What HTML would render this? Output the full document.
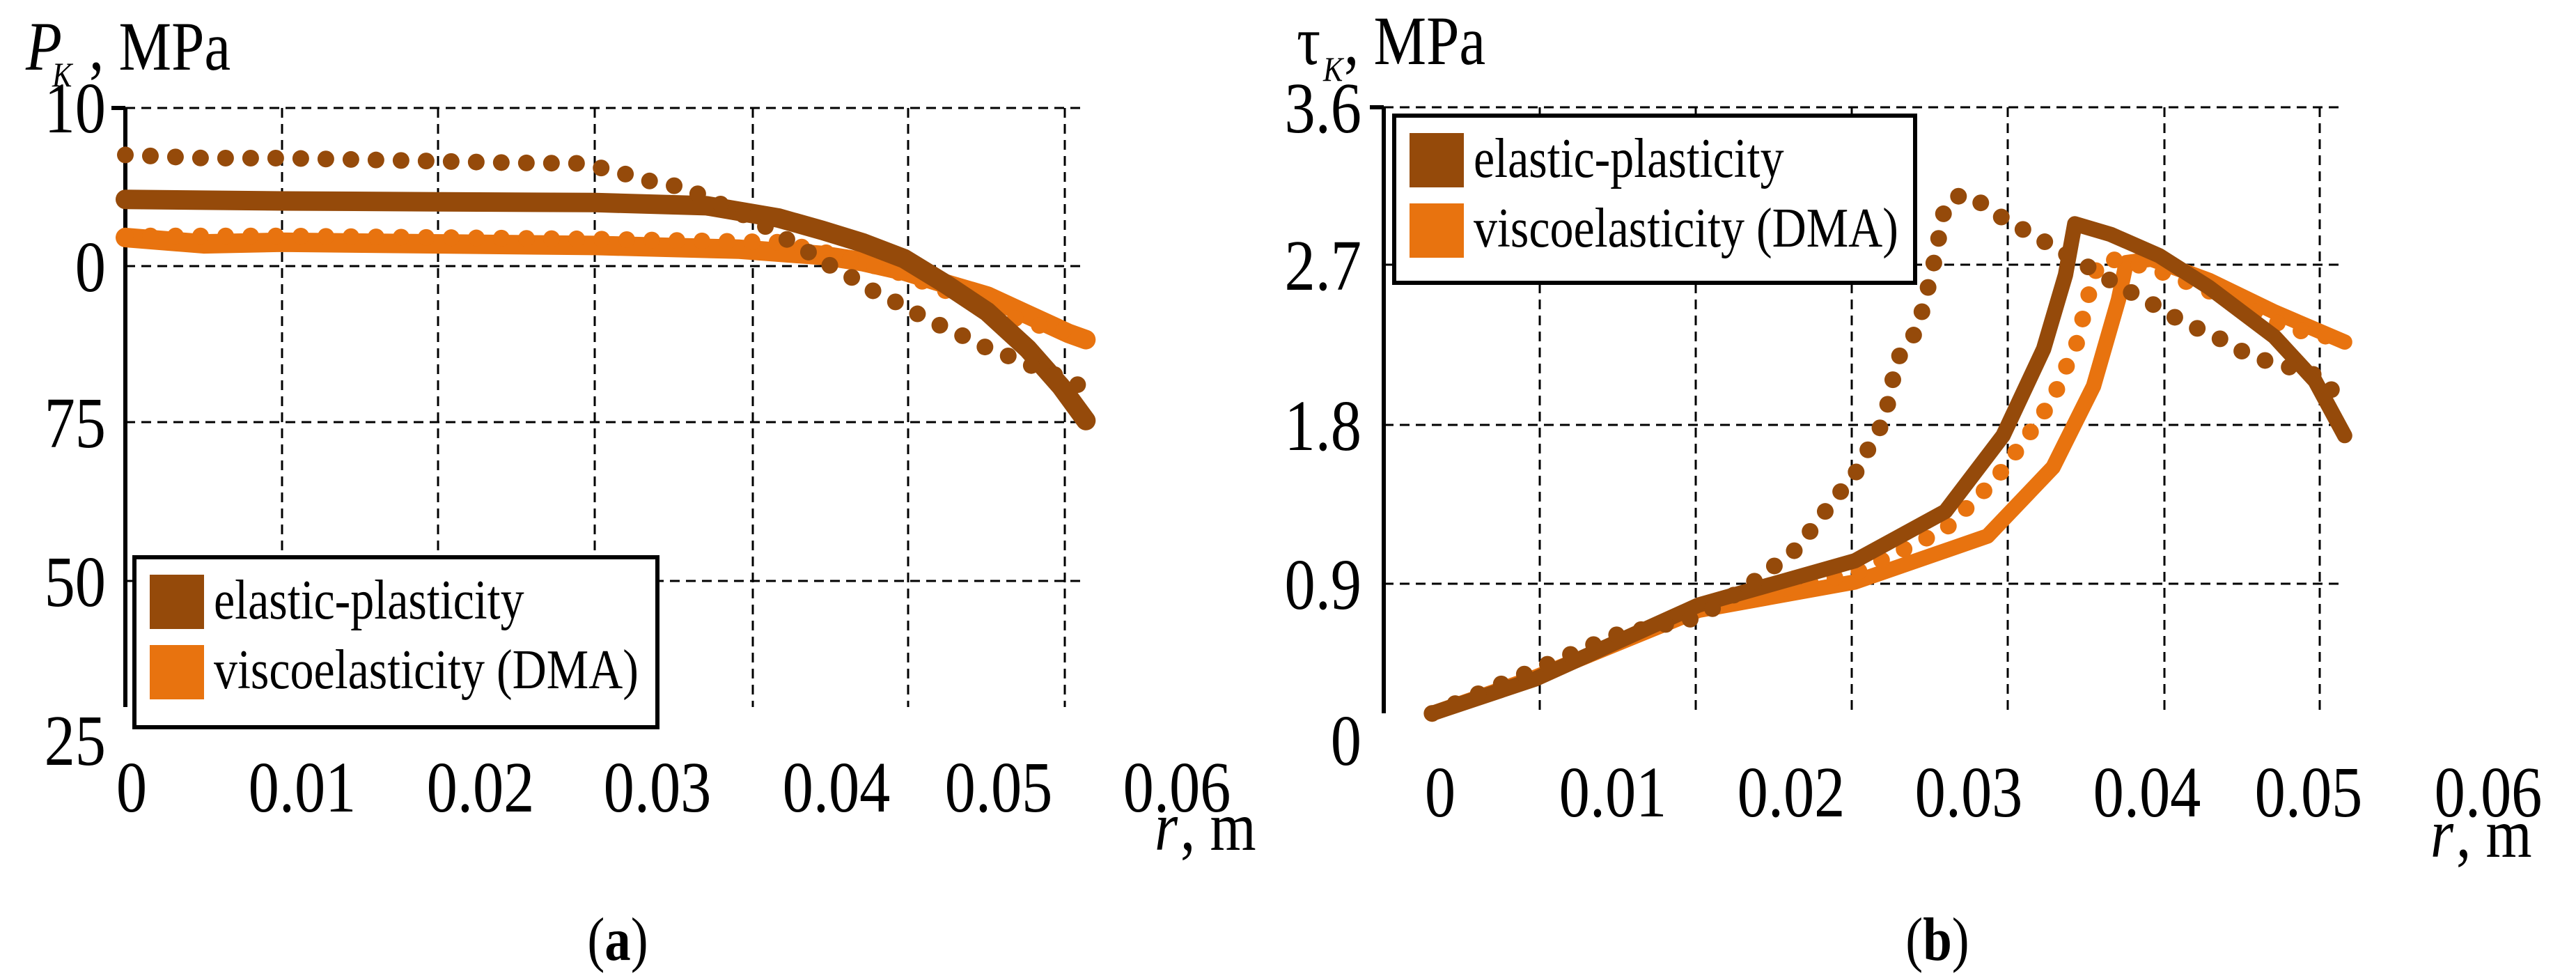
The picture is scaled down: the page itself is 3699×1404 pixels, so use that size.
<!DOCTYPE html>
<html><head><meta charset="utf-8"><style>
html,body{margin:0;padding:0;background:#fff;}
svg{display:block;}
text{font-family:"Liberation Serif",serif;fill:#000;}
</style></head><body>
<svg id="fig" width="3699" height="1404" viewBox="0 0 3699 1404">
<g id="chartA"></g>
<g id="chartB"></g>
</svg>
<script>
// ---- Chart (a) data: r in units of 0.01 m, P in MPa-axis units ----
const aBrownDotR = [0,0.5,1.0,1.5,2.0,2.5,2.88,3.09,3.37,3.55,3.72,4.03,4.18,4.35,4.51,4.65,4.78,4.96,5.10,5.24,5.38,5.55,5.69,5.81,5.97,6.10];
const aBrownDotV = [7.0,6.8,6.8,6.7,6.6,6.5,6.47,6.08,5.29,4.98,4.27,2.82,1.92,0.94,-0.04,-0.79,-1.61,-2.47,-3.26,-3.92,-4.55,-5.42,-5.81,-6.4,-6.98,-7.57];
const aBrownSolR = [0,1,2,3,3.71,4.17,4.45,4.71,4.97,5.23,5.5,5.76,5.97,6.13];
const aBrownSolV = [4.2,4.1,4.05,4.0,3.8,3.02,2.24,1.45,0.47,-1.1,-2.87,-5.22,-7.57,-9.73];
const aOrangeSolR = [0,0.5,1,2,3,3.92,4.45,4.71,4.97,5.23,5.5,5.76,6.02,6.13];
const aOrangeSolV = [1.8,1.4,1.5,1.4,1.3,1.06,0.67,0.27,-0.31,-1.1,-1.88,-3.06,-4.24,-4.63];
const aOrangeDotR = [0,1,2,3,4.18,4.45,4.97,5.5,5.76,6.08];
const aOrangeDotV = [1.9,1.9,1.8,1.7,1.5,0.9,-0.5,-2.6,-3.6,-4.2];
const aYTicks = ["10","0","75","50","25"];
const aXTicks = ["0","0.01","0.02","0.03","0.04","0.05","0.06"];

// ---- Chart (b) data ----
const bBrownSolR = [0.31,0.97,2.02,3.02,3.6,3.97,4.23,4.37,4.43,4.66,4.97,5.29,5.71,5.97,6.16];
const bBrownSolV = [0.165,0.36,0.78,1.03,1.31,1.74,2.23,2.65,2.94,2.88,2.76,2.58,2.30,2.05,1.74];
const bOrangeSolR = [0.31,0.97,2.02,3.02,3.87,4.29,4.55,4.71,4.76,4.92,5.29,5.71,6.16];
const bOrangeSolV = [0.165,0.37,0.75,0.91,1.17,1.56,2.02,2.51,2.72,2.74,2.62,2.44,2.27];
const bBrownDotR = [0.31,1.49,2.02,2.34,2.65,2.89,3.02,3.11,3.21,3.29,3.42,3.47,3.52,3.56,3.6,3.71,3.87,4.0,4.14,4.31,4.47,4.73,4.9,5.05,5.18,5.32,5.47,5.63,5.76,6.02,6.13];
const bBrownDotV = [0.165,0.61,0.71,0.89,1.10,1.38,1.52,1.67,1.83,2.17,2.34,2.51,2.69,2.87,3.05,3.11,3.04,2.95,2.89,2.80,2.72,2.58,2.50,2.42,2.36,2.31,2.23,2.17,2.14,2.07,1.93];
const bOrangeDotR = [0.31,1.0,2.02,3.02,3.6,3.92,4.13,4.29,4.37,4.45,4.5,4.58,4.66,4.92,5.18,5.5,5.79,6.16];
const bOrangeDotV = [0.165,0.42,0.76,0.96,1.21,1.49,1.74,1.95,2.12,2.28,2.48,2.72,2.74,2.69,2.60,2.48,2.35,2.28];
const bYTicks = ["3.6","2.7","1.8","0.9","0"];
const bXTicks = ["0","0.01","0.02","0.03","0.04","0.05","0.06"];

const BROWN = "#954a0a", ORANGE = "#e8730f";
const NS = "http://www.w3.org/2000/svg";
function mk(tag, attrs, parent){const e=document.createElementNS(NS,tag);for(const k in attrs)e.setAttribute(k,attrs[k]);parent.appendChild(e);return e;}
function txt(parent,x,y,s,size,anchor,extra){
  const t=mk("text",{x:0,y:0,"font-size":size,"text-anchor":anchor||"middle",transform:`translate(${x},${y}) scale(0.85,1)`},parent);
  if(extra) for(const k in extra) t.setAttribute(k,extra[k]);
  t.textContent=s;return t;}

function pathD(xs,ys,sx,sy){return xs.map((r,i)=>(i?"L":"M")+sx(r).toFixed(1)+","+sy(ys[i]).toFixed(1)).join(" ");}

function drawChart(g, cfg){
  const sx=r=>cfg.x0+r*cfg.dx, sy=v=>cfg.y0-v*cfg.dy;
  const grid=mk("g",{},g);
  
  
  cfg.hgrid.forEach(y=>{mk("line",{x1:cfg.x0,x2:cfg.xEnd,y1:y,y2:y,stroke:"#000","stroke-width":3,"stroke-dasharray":"14 9"},grid);});
  cfg.vgrid.forEach(x=>{mk("line",{x1:x,x2:x,y1:cfg.yTop,y2:cfg.yBot,stroke:"#000","stroke-width":3,"stroke-dasharray":"14 9"},grid);});
  const ax=mk("line",{x1:cfg.x0,x2:cfg.x0,y1:cfg.yTop,y2:cfg.yBot,stroke:"#000","stroke-width":6},g);
  
  
  mk("line",{x1:cfg.x0-20,x2:cfg.x0,y1:cfg.yTop,y2:cfg.yTop,stroke:"#000","stroke-width":6},g);
  cfg.series.forEach(s=>{
    const p=mk("path",{d:pathD(s.r,s.v,sx,sy),fill:"none",stroke:s.c,"stroke-linecap":"round","stroke-linejoin":"round"},g);
    if(s.dot){p.setAttribute("stroke-width",24);p.setAttribute("stroke-dasharray","0 36");}
    else p.setAttribute("stroke-width",s.w||22);
    
    
  });
  cfg.yTicks.forEach((s,i)=>{const t=txt(g,cfg.yLabX,cfg.yLabY[i],s,104,"end");
    
    });
  cfg.xTicks.forEach((s,i)=>{const t=txt(g,cfg.xLabX[i],cfg.xLabY,s,104,"middle");
    
    });
  const lg=mk("g",{},g);
  
  
  const L=cfg.legend;
  mk("rect",{x:L.x,y:L.y,width:L.w,height:L.h,fill:"#fff",stroke:"#000","stroke-width":6},lg);
  mk("rect",{x:L.x+22,y:L.y+25,width:78,height:78,fill:BROWN},lg);
  mk("rect",{x:L.x+22,y:L.y+126,width:78,height:78,fill:ORANGE},lg);
  const t1=txt(lg,L.x+114,L.y+88,"elastic-plasticity",80,"start");
  
  
  const t2=txt(lg,L.x+114,L.y+188,"viscoelasticity (DMA)",80,"start");
  
  
}

const gA=document.getElementById("chartA");
drawChart(gA,{x0:180,dx:225,y0:382,dy:22.8,xEnd:1557,yTop:155,yBot:1015,
  hgrid:[155,382,606,834],vgrid:[405,629,854,1081,1304,1529],
  series:[
    {r:aOrangeSolR,v:aOrangeSolV,c:ORANGE,w:28,name:"series-viscoelastic-solid"},
    {r:aOrangeDotR,v:aOrangeDotV,c:ORANGE,dot:true,name:"series-viscoelastic-dotted"},
    {r:aBrownSolR,v:aBrownSolV,c:BROWN,w:28,name:"series-elastic-solid"},
    {r:aBrownDotR,v:aBrownDotV,c:BROWN,dot:true,name:"series-elastic-dotted"}],
  yTicks:aYTicks,yLabX:152,yLabY:[190,418,642,870,1098],
  xTicks:aXTicks,xLabX:[189,434,690,944,1201,1434,1690],xLabY:1165,
  legend:{x:193,y:800,w:751,h:244}});
const gB=document.getElementById("chartB");
drawChart(gB,{x0:1987,dx:224,y0:1066,dy:253.3,xEnd:3366,yTop:154,yBot:1024,
  hgrid:[154,380,610,838],vgrid:[2211,2435,2659,2883,3108,3331],
  series:[
    {r:bOrangeSolR,v:bOrangeSolV,c:ORANGE,w:22,name:"series-viscoelastic-solid"},
    {r:bOrangeDotR,v:bOrangeDotV,c:ORANGE,dot:true,name:"series-viscoelastic-dotted"},
    {r:bBrownSolR,v:bBrownSolV,c:BROWN,w:22,name:"series-elastic-solid"},
    {r:bBrownDotR,v:bBrownDotV,c:BROWN,dot:true,name:"series-elastic-dotted"}],
  yTicks:bYTicks,yLabX:1955,yLabY:[190,416,646,874,1098],
  xTicks:bXTicks,xLabX:[2068,2316,2572,2827,3083,3315,3573],xLabY:1172,
  legend:{x:2002,y:166,w:748,h:240}});

const fig=document.getElementById("fig");
let t;
t=txt(fig,37,100,"P",100,"start",{"font-style":"italic"});


t=txt(fig,75,124,"K",50,"start",{"font-style":"italic"});
t=txt(fig,128,100,", MPa",100,"start");
t=txt(fig,1862,92,"τ",100,"start");


t=txt(fig,1900,116,"K",50,"start",{"font-style":"italic"});
t=txt(fig,1930,92,", MPa",100,"start");
t=txt(fig,1658,1220,"r",100,"start",{"font-style":"italic"});


t=txt(fig,1695,1220,", m",100,"start");
t=txt(fig,3490,1230,"r",100,"start",{"font-style":"italic"});


t=txt(fig,3527,1230,", m",100,"start");
function panelLabel(x,letter,name){
  const el=txt(fig,x,1378,"",88,"middle");
  
  
  const a=mk("tspan",{},el);a.textContent="(";
  const b=mk("tspan",{"font-weight":"bold"},el);b.textContent=letter;
  const c=mk("tspan",{},el);c.textContent=")";
}
panelLabel(887,"a","panel-label-a");
panelLabel(2782,"b","panel-label-b");
</script>
</body></html>
